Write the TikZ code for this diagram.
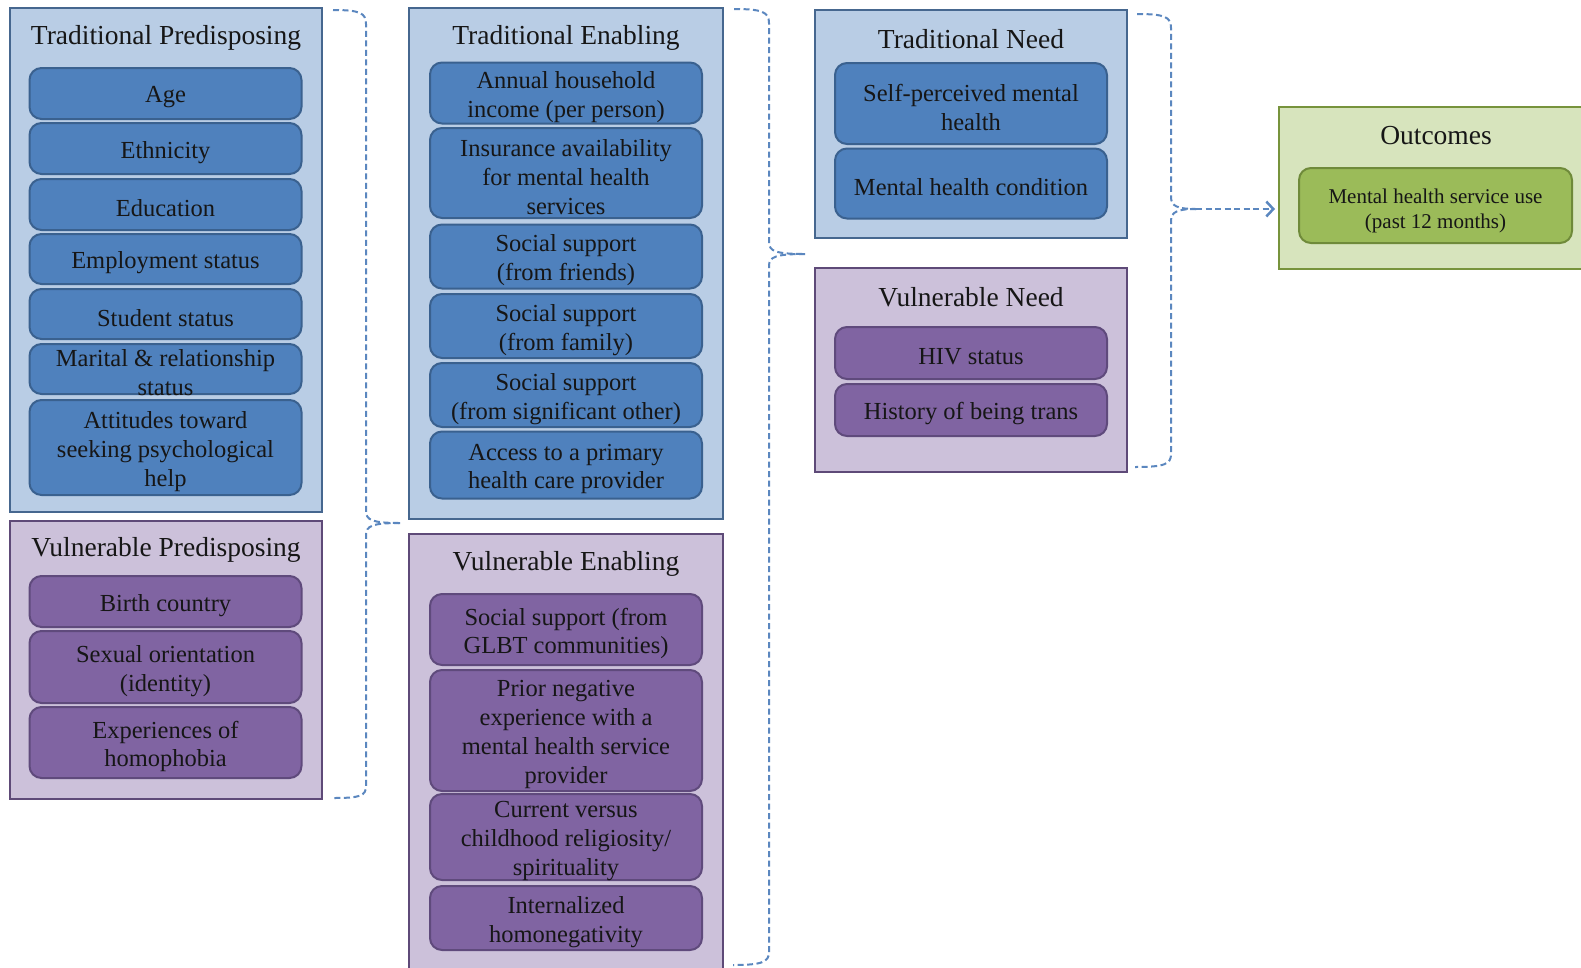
\documentclass[tikz,border=0pt]{standalone}
\usepackage{fontspec}
\setmainfont{Liberation Serif}
\usetikzlibrary{arrows.meta}
\definecolor{tOutF}{HTML}{B9CDE5}
\definecolor{tOutD}{HTML}{46678F}
\definecolor{tInF}{HTML}{4F81BD}
\definecolor{tInD}{HTML}{3A618F}
\definecolor{vOutF}{HTML}{CCC1DA}
\definecolor{vOutD}{HTML}{5E4A78}
\definecolor{vInF}{HTML}{8064A2}
\definecolor{vInD}{HTML}{5F4A7C}
\definecolor{oOutF}{HTML}{D7E4BD}
\definecolor{oOutD}{HTML}{77933C}
\definecolor{oInF}{HTML}{9BBB59}
\definecolor{oInD}{HTML}{6F8A3A}
\definecolor{braceC}{HTML}{5B87BF}
\definecolor{txtc}{HTML}{161616}
\tikzset{
  panel/.style={draw, line width=2.5pt, anchor=north west, inner sep=0pt, outer sep=0pt},
  tpanel/.style={panel, fill=tOutF, draw=tOutD},
  vpanel/.style={panel, fill=vOutF, draw=vOutD},
  opanel/.style={panel, fill=oOutF, draw=oOutD},
  ptitle/.style={font=\fontsize{27.5pt}{31pt}\selectfont, text=txtc, inner sep=0pt},
  itemtext/.style={font=\fontsize{24.5pt}{28.8pt}\selectfont, text=txtc, align=center, inner sep=0pt, yshift=-4pt},
  oitemtext/.style={font=\fontsize{21pt}{25pt}\selectfont, text=txtc, align=center, inner sep=0pt, yshift=-5pt},
  itembox/.style={draw, line width=2pt, rounded corners=12pt, anchor=north west, inner sep=0pt, outer sep=0pt, minimum width=272pt},
  titem/.style={itembox, fill=tInF, draw=tInD, label={[itemtext]center:{#1}}},
  vitem/.style={itembox, fill=vInF, draw=vInD, label={[itemtext]center:{#1}}},
  oitem/.style={itembox, fill=oInF, draw=oInD, minimum width=273pt, label={[oitemtext]center:{#1}}},
  bracestyle/.style={draw=braceC, line width=2pt, dash pattern=on 6pt off 3.5pt},
}
\begin{document}
\begin{tikzpicture}[x=1pt, y=-1pt]
\useasboundingbox (0,0) rectangle (1581,967);
\clip (0,0) rectangle (1581,967);
\fill[white] (0,0) rectangle (1581,967);

% Traditional Predisposing
\node[tpanel, minimum width=312pt, minimum height=504pt] (TP) at (10,8) {};
\node[ptitle] (TPt) at ([yshift=-30pt]TP.north) {Traditional Predisposing};
\node[titem={Age}, minimum height=51pt] (age) at (29.5,68) {};
\node[titem={Ethnicity}, minimum height=51pt] (eth) at (29.5,123) {};
\node[titem={Education}, minimum height=51pt] (edu) at (29.5,179) {};
\node[titem={Employment status}, minimum height=50pt] (emp) at (29.5,234) {};
\node[titem={Student status}, minimum height=50pt] (stu) at (29.5,289) {};
\node[titem={Marital \& relationship\\status}, minimum height=50pt] (mar) at (29.5,344) {};
\node[titem={Attitudes toward\\seeking psychological\\help}, minimum height=95pt] (att) at (29.5,400) {};

% Vulnerable Predisposing
\node[vpanel, minimum width=312pt, minimum height=278pt] (VP) at (10,521) {};
\node[ptitle] (VPt) at ([yshift=-29pt]VP.north) {Vulnerable Predisposing};
\node[vitem={Birth country}, minimum height=51pt] (birth) at (29.5,576) {};
\node[vitem={Sexual orientation\\(identity)}, minimum height=72pt] (sex) at (29.5,631) {};
\node[vitem={Experiences of\\homophobia}, minimum height=71pt] (exp) at (29.5,707) {};

% Traditional Enabling
\node[tpanel, minimum width=314pt, minimum height=511pt] (TE) at (409,8) {};
\node[ptitle] (TEt) at ([yshift=-30pt]TE.north) {Traditional Enabling};
\node[titem={Annual household\\income (per person)}, minimum height=61pt] (ann) at (430,62.5) {};
\node[titem={Insurance availability\\for mental health\\services}, minimum height=90pt] (ins) at (430,128) {};
\node[titem={Social support\\(from friends)}, minimum height=64pt] (ssf) at (430,224.5) {};
\node[titem={Social support\\(from family)}, minimum height=64pt] (ssfam) at (430,294) {};
\node[titem={Social support\\(from significant other)}, minimum height=64pt] (sso) at (430,363) {};
\node[titem={Access to a primary\\health care provider}, minimum height=67pt] (acc) at (430,431.5) {};

% Vulnerable Enabling
\node[vpanel, minimum width=314pt, minimum height=445pt] (VE) at (409,534) {};
\node[ptitle] (VEt) at ([yshift=-30pt]VE.north) {Vulnerable Enabling};
\node[vitem={Social support (from\\GLBT communities)}, minimum height=71pt] (glbt) at (430,594) {};
\node[vitem={Prior negative\\experience with a\\mental health service\\provider}, minimum height=121pt] (prior) at (430,670) {};
\node[vitem={Current versus\\childhood religiosity/\\spirituality}, minimum height=86pt] (cur) at (430,794) {};
\node[vitem={Internalized\\homonegativity}, minimum height=64pt] (int) at (430,886) {};

% Traditional Need
\node[tpanel, minimum width=312pt, minimum height=228pt] (TN) at (815,10) {};
\node[ptitle] (TNt) at ([yshift=-29pt]TN.north) {Traditional Need};
\node[titem={Self-perceived mental\\health}, minimum height=81pt] (spm) at (835,63) {};
\node[titem={Mental health condition}, minimum height=70pt] (mhc) at (835,148.5) {};

% Vulnerable Need
\node[vpanel, minimum width=312pt, minimum height=204pt] (VN) at (815,268) {};
\node[ptitle] (VNt) at ([yshift=-29pt]VN.north) {Vulnerable Need};
\node[vitem={HIV status}, minimum height=52pt] (hiv) at (835,327) {};
\node[vitem={History of being trans}, minimum height=52pt] (hist) at (835,384) {};

% Outcomes
\node[opanel, minimum width=314pt, minimum height=162pt] (OUT) at (1279,107) {};
\node[ptitle] (OUTt) at ([yshift=-29pt]OUT.north) {Outcomes};
\node[oitem={Mental health service use\\(past 12 months)}, minimum height=75pt] (use) at (1299,168) {};

% Braces
\coordinate (b1top) at (333,10);
\coordinate (b1tip) at (400,523);
\coordinate (b1bot) at (333,798);
\draw[bracestyle] (b1top) .. controls (360,10) and (366,13) .. (366,24) -- (366,511)
  .. controls (366,520) and (372,523) .. (b1tip);
\draw[bracestyle] (b1tip) .. controls (372,523) and (366,526) .. (366,535) -- (366,786)
  .. controls (366,796) and (360,798) .. (b1bot);

\coordinate (b2top) at (734,9);
\coordinate (b2tip) at (805,254);
\coordinate (b2bot) at (733,965);
\draw[bracestyle] (b2top) .. controls (762,9) and (769,12) .. (769,23) -- (769,242)
  .. controls (769,251) and (775,254) .. (b2tip);
\draw[bracestyle] (b2tip) .. controls (775,254) and (769,257) .. (769,266) -- (769,952)
  .. controls (769,962) and (762,965) .. (b2bot);

\coordinate (b3top) at (1137,14);
\coordinate (b3tip) at (1196,209);
\coordinate (b3bot) at (1135,467);
\draw[bracestyle] (b3top) .. controls (1165,14) and (1171,17) .. (1171,28) -- (1171,197)
  .. controls (1171,206) and (1177,209) .. (b3tip);
\draw[bracestyle] (b3tip) .. controls (1177,209) and (1171,212) .. (1171,221) -- (1171,454)
  .. controls (1171,464) and (1165,467) .. (b3bot);
\draw[bracestyle, -{Straight Barb[length=7pt,width=15pt,line width=2.5pt]}, shorten >=4pt]
  (b3tip) -- (b3tip -| OUT.west);
\end{tikzpicture}
\end{document}
